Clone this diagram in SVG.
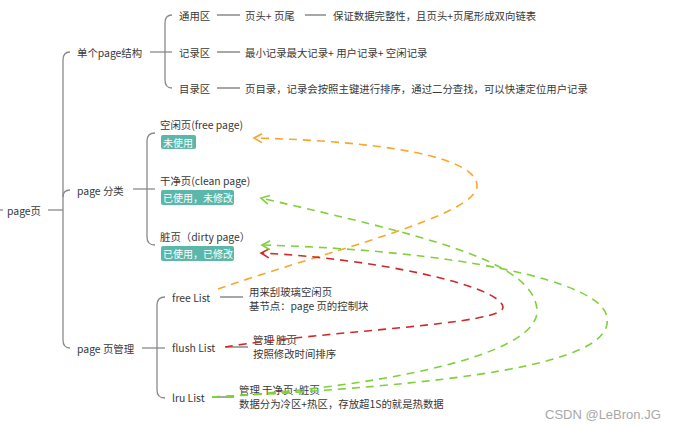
<svg xmlns="http://www.w3.org/2000/svg" width="681" height="429" viewBox="0 0 681 429">
<defs>
<style>
text{font-family:"Noto Sans CJK SC","Noto Sans",sans-serif;font-size:10.4px;fill:#383838;dominant-baseline:central}
.tag rect{fill:#5bb7a9}
.tag text{fill:#fff;font-size:10px}
.ln{fill:none;stroke:#8a8a8a;stroke-width:1.3}
.d{fill:none;stroke-width:1.6;stroke-dasharray:8 6}
.or{stroke:#f9a62b}.gr{stroke:#80d03a}.rd{stroke:#cc2a2a}
.wm{font-family:"Liberation Sans",Arial,sans-serif;font-size:13px;fill:#a8a8a8}
</style>
<marker id="aO" markerUnits="userSpaceOnUse" markerWidth="12" markerHeight="12" refX="10" refY="6" orient="auto"><path d="M2 1.5 L10 6 L2 10.5" fill="none" stroke="#f9a62b" stroke-width="1.6"/></marker>
<marker id="aG" markerUnits="userSpaceOnUse" markerWidth="12" markerHeight="12" refX="10" refY="6" orient="auto"><path d="M2 1.5 L10 6 L2 10.5" fill="none" stroke="#80d03a" stroke-width="1.6"/></marker>
<marker id="aR" markerUnits="userSpaceOnUse" markerWidth="12" markerHeight="12" refX="10" refY="6" orient="auto"><path d="M2 1.5 L10 6 L2 10.5" fill="none" stroke="#cc2a2a" stroke-width="1.6"/></marker>
</defs>
<rect width="681" height="429" fill="#fff"/>

<g id="tree-lines">
<path class="ln" d="M0 210 L3 210"/>
<path class="ln" d="M48 210 L63 210"/>
<path class="ln" d="M70 52 Q63 52 63 60 L63 340 Q63 348 70 348"/>
<path class="ln" d="M63 197 Q63 190 70 190"/>
<path class="ln" d="M150 52 L172 52"/>
<path class="ln" d="M172 15 Q165 15 165 23 L165 80 Q165 88 172 88"/>
<path class="ln" d="M217 15 L240 15 M305 15 L326 15 M217 52 L240 52 M217 88 L240 88"/>
<path class="ln" d="M133 189 L155 189"/>
<path class="ln" d="M155 133 Q147 133 147 141 L147 237 Q147 245 155 245"/>
<path class="ln" d="M142 348 L165 348"/>
<path class="ln" d="M165 297 Q157 297 157 305 L157 390 Q157 398 165 398"/>
<path class="ln" d="M220 297 L243 297 M226 347 L248 347 M212 397 L234 397"/>
</g>

<g id="root"><text x="7" y="210">page页</text></g>
<g id="n-struct"><text x="77" y="52">单个page结构</text></g>
<g id="n-common"><text x="179" y="15">通用区</text></g>
<g id="n-header"><text x="245" y="15">页头+ 页尾</text></g>
<g id="n-header-desc"><text x="333" y="15">保证数据完整性，且页头+页尾形成双向链表</text></g>
<g id="n-record"><text x="179" y="52">记录区</text></g>
<g id="n-record-desc"><text x="245" y="52">最小记录最大记录+ 用户记录+ 空闲记录</text></g>
<g id="n-dir"><text x="179" y="88">目录区</text></g>
<g id="n-dir-desc"><text x="245" y="88">页目录，记录会按照主键进行排序，通过二分查找，可以快速定位用户记录</text></g>

<g id="n-class"><text x="77" y="190">page 分类</text></g>
<g id="n-free-page"><text x="160" y="124">空闲页(free page)</text>
<g class="tag"><rect x="161" y="135" width="35" height="14" rx="2"/><text x="163" y="142">未使用</text></g></g>
<g id="n-clean-page"><text x="160" y="180">干净页(clean page)</text>
<g class="tag"><rect x="161" y="190" width="73" height="15" rx="2"/><text x="163" y="197.5">已使用，未修改</text></g></g>
<g id="n-dirty-page"><text x="160" y="236">脏页（dirty page）</text>
<g class="tag"><rect x="161" y="246" width="73" height="15" rx="2"/><text x="163" y="253.5">已使用，已修改</text></g></g>

<g id="n-manage"><text x="77" y="348">page 页管理</text></g>
<g id="n-free-list"><text x="172" y="297">free List</text></g>
<g id="n-free-desc"><text x="249" y="291">用来刮玻璃空闲页</text><text x="249" y="305">基节点：page 页的控制块</text></g>
<g id="n-flush-list"><text x="172" y="347">flush List</text></g>
<g id="n-flush-desc"><text x="253" y="339">管理 脏页</text><text x="253" y="353">按照修改时间排序</text></g>
<g id="n-lru-list"><text x="172" y="397">lru List</text></g>
<g id="n-lru-desc"><text x="239" y="389">管理 干净页+脏页</text><text x="239" y="403">数据分为冷区+热区，存放超1S的就是热数据</text></g>

<g id="connectors">
<path class="d or" marker-end="url(#aO)" d="M218 289 C330 250 480 215 477 185 C474 150 340 140 254 138"/>
<path class="d rd" marker-end="url(#aR)" d="M225 347 C330 330 505 325 503 307 C500 285 370 258 261 253"/>
<path class="d gr" marker-end="url(#aG)" d="M212 397 C350 390 540 360 537 310 C534 260 420 235 261 198"/>
<path class="d gr" marker-end="url(#aG)" d="M212 397 C450 385 615 365 607 318 C604 280 450 250 262 245"/>
</g>

<text class="wm" x="545" y="414">CSDN @LeBron.JG</text>
</svg>
